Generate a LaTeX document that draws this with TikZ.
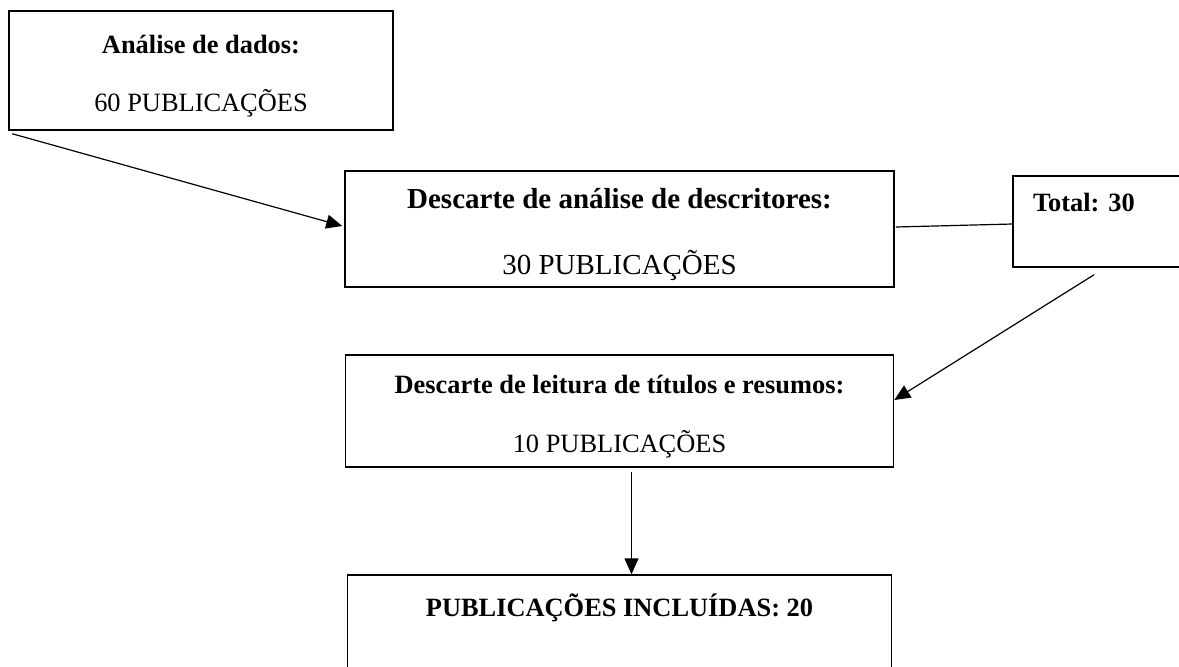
\documentclass[tikz,border=0pt]{standalone}
\usepackage{fontspec}
\setmainfont{Liberation Serif}
\usetikzlibrary{arrows.meta}
\tikzstyle{box} = [rectangle, draw=black, line width=0.75pt, align=center, font=\fontsize{13.2}{29}\selectfont\frenchspacing]
\tikzstyle{line} = [line width=0.6pt]
\tikzstyle{arrow} = [line width=0.6pt, -{Triangle[length=8pt, width=7pt]}]
\newcommand{\toppad}{\rule{0pt}{14.5pt}}

\begin{document}
\begin{tikzpicture}[x=0.5pt, y=-0.5pt]
    \useasboundingbox (0,0) rectangle (1179,666);
    \clip (0,0) rectangle (1179,666);

    \node (analise) [box, minimum width=192pt, minimum height=59.5pt] at (201,70.5) {\toppad\textbf{Análise de dados:}\\60 PUBLICAÇÕES};
    \node (descritores) [box, font=\fontsize{14.5}{33}\selectfont\frenchspacing, inner ysep=0pt, minimum width=274.5pt, minimum height=58pt, node distance=79.25pt, below of=analise, xshift=209.25pt] {\rule{0pt}{16pt}\textbf{Descarte de análise de descritores:}\\30 PUBLICAÇÕES};
    \node (total) [box, align=left, text width=73.5pt, inner xsep=10pt, inner ysep=0pt, text height=17.85pt, text depth=27.65pt, node distance=243.5pt, right of=descritores, yshift=3.75pt] {\textbf{Total: 30}};

    \node (leitura) [box, minimum width=274pt, minimum height=56pt, node distance=91pt, below of=descritores] {\toppad\textbf{Descarte de leitura de títulos e resumos:}\\[0.5pt]10 PUBLICAÇÕES};
    \node (incluidas) [box, minimum width=272pt, inner ysep=0pt, text height=20.85pt, text depth=41.6pt, node distance=113.25pt, below of=leitura] {\textbf{PUBLICAÇÕES INCLUÍDAS: 20}};

\draw [arrow] ([shift={(4,3)}]analise.south west) -- ([shift={(-2,-3)}]descritores.west);

\draw [line] ([shift={(1,-2)}]descritores.east) -- ([shift={(0,2.5)}]total.west);
\draw [arrow] ([shift={(-12.5,7)}]total.south) -- ([shift={(0,-11)}]leitura.east);

\draw [arrow] ([shift={(12,4)}]leitura.south) -- ([shift={(12,0)}]incluidas.north);

\end{tikzpicture}
\end{document}
